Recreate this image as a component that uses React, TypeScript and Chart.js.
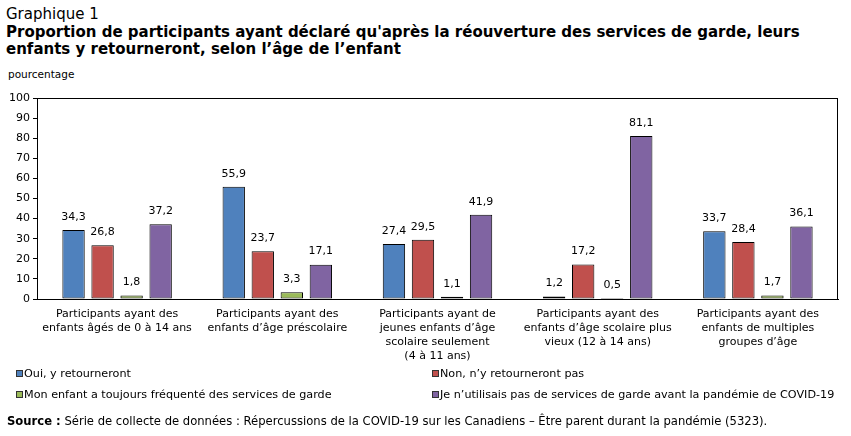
import React, { useEffect, useRef } from "react";
import { Chart, registerables } from "chart.js";

Chart.register(...registerables);

const categories: string[][] = [
  ["Participants ayant des", "enfants âgés de 0 à 14 ans"],
  ["Participants ayant des", "enfants d’âge préscolaire"],
  ["Participants ayant de", "jeunes enfants d’âge", "scolaire seulement", "(4 à 11 ans)"],
  ["Participants ayant des", "enfants d’âge scolaire plus", "vieux (12 à 14 ans)"],
  ["Participants ayant des", "enfants de multiples", "groupes d’âge"],
];

const seriesNames = [
  "Oui, y retourneront",
  "Non, n’y retourneront pas",
  "Mon enfant a toujours fréquenté des services de garde",
  "Je n’utilisais pas de services de garde avant la pandémie de COVID-19",
];

const oui = [34.3, 55.9, 27.4, 1.2, 33.7];
const non = [26.8, 23.7, 29.5, 17.2, 28.4];
const toujours = [1.8, 3.3, 1.1, 0.5, 1.7];
const nutilisaisPas = [37.2, 17.1, 41.9, 81.1, 36.1];

const yTicks = [0, 10, 20, 30, 40, 50, 60, 70, 80, 90, 100];

const colors = ["#4F81BD", "#C0504D", "#9BBB59", "#8064A2"];

const FONT = '"DejaVu Sans", Verdana, sans-serif';

const frFormat = (v: number) => v.toFixed(1).replace(".", ",");

const valueLabels = {
  id: "valueLabels",
  afterDatasetsDraw(chart: any) {
    const ctx = chart.ctx;
    ctx.save();
    ctx.font = `11px ${FONT}`;
    ctx.fillStyle = "#000";
    ctx.textAlign = "center";
    ctx.textBaseline = "middle";
    chart.data.datasets.forEach((ds: any, i: number) => {
      const meta = chart.getDatasetMeta(i);
      meta.data.forEach((bar: any, j: number) => {
        ctx.fillText(frFormat(ds.data[j]), bar.x, bar.y - 13);
      });
    });
    ctx.restore();
  },
};

const frame = {
  id: "frame",
  afterDraw(chart: any) {
    const { ctx, chartArea } = chart;
    ctx.save();
    ctx.strokeStyle = "#000";
    ctx.lineWidth = 1;
    ctx.strokeRect(
      Math.round(chartArea.left) + 0.5,
      Math.round(chartArea.top) + 0.5,
      Math.round(chartArea.right - chartArea.left) - 1,
      Math.round(chartArea.bottom - chartArea.top) - 0
    );
    ctx.restore();
  },
};

export default function App() {
  const ref = useRef<HTMLCanvasElement | null>(null);

  useEffect(() => {
    if (!ref.current) return;
    const series = [oui, non, toujours, nutilisaisPas];
    const chart = new Chart(ref.current, {
      type: "bar",
      data: {
        labels: categories,
        datasets: series.map((d, i) => ({
          label: seriesNames[i],
          data: d,
          backgroundColor: colors[i],
          borderColor: "#000",
          borderWidth: 1,
          borderSkipped: false,
          categoryPercentage: 0.725,
          barPercentage: 0.77,
        })),
      },
      options: {
        animation: false,
        responsive: false,
        devicePixelRatio: 1,
        layout: { padding: { top: 98, left: 0, right: 13, bottom: 0 } },
        plugins: {
          legend: { display: false },
          tooltip: { enabled: false },
          title: { display: false },
        },
        scales: {
          x: {
            grid: { display: false, drawTicks: false },
            border: { display: true, color: "#000" },
            ticks: {
              color: "#000",
              font: { family: FONT, size: 11, lineHeight: 1.27 },
              padding: 8,
              maxRotation: 0,
              autoSkip: false,
            },
            afterFit: (s: any) => {
              s.height = 137;
            },
          },
          y: {
            min: 0,
            max: 100,
            afterBuildTicks: (s: any) => {
              s.ticks = yTicks.map((v) => ({ value: v }));
            },
            grid: {
              drawOnChartArea: false,
              drawTicks: true,
              tickLength: 4,
              color: "#000",
            },
            border: { display: true, color: "#000" },
            ticks: {
              color: "#000",
              font: { family: FONT, size: 11 },
              padding: 3,
            },
            afterFit: (s: any) => {
              s.width = 37;
            },
          },
        },
      },
      plugins: [valueLabels, frame],
    });
    return () => chart.destroy();
  }, []);

  const legendItem = (i: number, left: number, top: number) => (
    <div
      key={i}
      style={{
        position: "absolute",
        left,
        top,
        display: "flex",
        alignItems: "center",
        fontSize: 11.2,
        whiteSpace: "nowrap",
      }}
    >
      <span
        style={{
          display: "inline-block",
          width: 5,
          height: 5,
          background: colors[i],
          border: "1px solid #333",
          marginRight: 1,
        }}
      />
      {seriesNames[i]}
    </div>
  );

  return (
    <div
      style={{
        position: "absolute",
        left: 0,
        top: 0,
        width: 851,
        height: 436,
        background: "#fff",
        fontFamily: FONT,
        color: "#000",
        overflow: "hidden",
      }}
    >
      <div style={{ position: "absolute", left: 6, top: 6, fontSize: 15, lineHeight: "17.5px", whiteSpace: "nowrap" }}>
        Graphique 1
        <br />
        <b>
          Proportion de participants ayant déclaré qu'après la réouverture des services de garde, leurs
          <br />
          enfants y retourneront, selon l’âge de l’enfant
        </b>
      </div>
      <div style={{ position: "absolute", left: 8, top: 68, fontSize: 10.5 }}>pourcentage</div>
      <canvas
        ref={ref}
        width={851}
        height={436}
        style={{ position: "absolute", left: 0, top: 0, width: 851, height: 436 }}
      />
      {legendItem(0, 16, 367)}
      {legendItem(1, 432, 367)}
      {legendItem(2, 16, 388)}
      {legendItem(3, 432, 388)}
      <div style={{ position: "absolute", left: 7, top: 414, fontSize: 11.6, whiteSpace: "nowrap" }}>
        <b>Source :</b> Série de collecte de données : Répercussions de la COVID-19 sur les Canadiens – Être parent durant la pandémie (5323).
      </div>
    </div>
  );
}
